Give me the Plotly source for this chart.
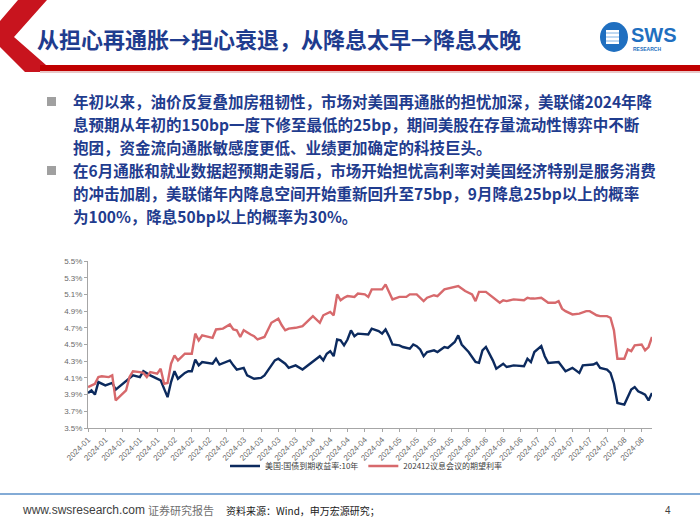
import plotly.graph_objects as go

W, H = 700, 525

# ---------------- data ----------------
tick_labels = (["2024-01"] * 5 + ["2024-02"] * 4 + ["2024-03"] * 4 + ["2024-04"] * 5 +
               ["2024-05"] * 4 + ["2024-06"] * 4 + ["2024-07"] * 5 + ["2024-08"] * 2)

# trading-day index of each reading
us10y_day = [0, 1, 2, 3, 5, 7, 8, 10, 13, 15, 16, 18, 21, 23, 24, 25, 26, 28, 29, 30,
             31, 32, 33, 36, 37, 38, 41, 42, 43, 45, 46, 48, 50, 51, 53, 54, 55, 57, 58, 60,
             62, 64, 67, 68, 69, 70, 71, 72, 73, 74, 75, 76, 77, 78, 81, 82, 84, 85, 86, 87,
             88, 90, 91, 93, 94, 95, 96, 97, 98, 100, 101, 103, 104, 106, 107, 108, 110, 112, 113, 114,
             115, 117, 118, 120, 121, 123, 126, 127, 128, 129, 131, 132, 133, 136, 138, 140, 142, 143, 146, 147,
             148, 150, 151, 152, 153, 155, 157, 158, 159, 160, 161, 162, 163]
us10y_val = [3.92, 3.95, 3.90, 4.05, 4.01, 4.04, 3.96, 4.03, 4.13, 4.11, 4.18, 4.13, 4.07, 3.87, 4.05, 4.18, 4.09, 4.16, 4.18, 4.18,
             4.32, 4.25, 4.29, 4.27, 4.33, 4.26, 4.31, 4.25, 4.20, 4.22, 4.13, 4.09, 4.10, 4.13, 4.25, 4.31, 4.33, 4.27, 4.22, 4.25,
             4.20, 4.26, 4.36, 4.31, 4.39, 4.42, 4.36, 4.56, 4.55, 4.49, 4.56, 4.67, 4.60, 4.63, 4.62, 4.69, 4.66, 4.63, 4.68, 4.60,
             4.50, 4.49, 4.47, 4.45, 4.50, 4.48, 4.44, 4.36, 4.41, 4.43, 4.41, 4.47, 4.46, 4.53, 4.61, 4.50, 4.41, 4.29, 4.28, 4.43,
             4.47, 4.31, 4.21, 4.27, 4.23, 4.25, 4.24, 4.33, 4.29, 4.41, 4.48, 4.36, 4.28, 4.29, 4.18, 4.22, 4.16, 4.25, 4.26, 4.28,
             4.22, 4.20, 4.16, 4.03, 3.80, 3.78, 3.96, 3.99, 3.94, 3.92, 3.90, 3.83, 3.92]

exp_day = [0, 1, 2, 3, 4, 6, 7, 8, 9, 11, 12, 13, 15, 16, 17, 18, 20, 21, 22, 23,
           24, 25, 26, 28, 30, 31, 32, 33, 36, 37, 39, 41, 42, 43, 44, 45, 47, 48, 49, 51,
           53, 55, 56, 57, 58, 60, 62, 63, 65, 67, 68, 70, 71, 72, 73, 74, 75, 77, 78, 80,
           81, 82, 85, 86, 87, 88, 90, 92, 93, 95, 97, 98, 100, 101, 103, 107, 109, 111, 112, 113,
           115, 117, 119, 120, 121, 123, 126, 127, 128, 129, 131, 133, 135, 136, 137, 138, 140, 142, 144, 145,
           147, 148, 150, 151, 152, 153, 155, 156, 157, 158, 160, 161, 162, 163]
exp_val = [3.99, 4.01, 4.03, 4.11, 4.12, 4.11, 4.13, 3.83, 3.87, 3.95, 4.11, 4.18, 4.17, 4.16, 4.11, 4.17, 4.15, 4.21, 4.03, 4.04,
           4.27, 4.37, 4.31, 4.39, 4.39, 4.63, 4.55, 4.61, 4.58, 4.68, 4.69, 4.74, 4.68, 4.67, 4.59, 4.67, 4.62, 4.60, 4.56, 4.59,
           4.76, 4.81, 4.73, 4.67, 4.69, 4.70, 4.72, 4.76, 4.84, 4.76, 4.85, 4.89, 4.85, 5.10, 5.03, 5.06, 5.08, 5.07, 5.11, 5.10,
           5.07, 5.16, 5.16, 5.22, 5.13, 5.04, 5.07, 5.07, 5.10, 5.10, 5.02, 5.06, 5.09, 5.08, 5.16, 5.20, 5.14, 5.10, 5.02, 5.13,
           5.13, 5.07, 5.00, 5.03, 5.02, 5.04, 5.03, 5.06, 5.05, 5.05, 5.06, 5.00, 5.00, 5.02, 4.93, 4.90, 4.86, 4.87, 4.90, 4.90,
           4.85, 4.84, 4.84, 4.82, 4.67, 4.33, 4.33, 4.44, 4.42, 4.49, 4.50, 4.43, 4.47, 4.59]

series_names = ["美国:国债到期收益率:10年", "202412议息会议的期望利率"]

title_text = "从担心再通胀→担心衰退，从降息太早→降息太晚"
bullet1 = ["年初以来，油价反复叠加房租韧性，市场对美国再通胀的担忧加深，美联储2024年降",
           "息预期从年初的150bp一度下修至最低的25bp，期间美股在存量流动性博弈中不断",
           "抱团，资金流向通胀敏感度更低、业绩更加确定的科技巨头。"]
bullet2 = ["在6月通胀和就业数据超预期走弱后，市场开始担忧高利率对美国经济特别是服务消费",
           "的冲击加剧，美联储年内降息空间开始重新回升至75bp，9月降息25bp以上的概率",
           "为100%，降息50bp以上的概率为30%。"]

# ---------------- helpers ----------------
def px(x):
    return x / W


def py(y):
    return 1 - y / H


NAVY = "#0C2A5E"
SALMON = "#D7696C"
TXT_BLUE = "#1F3C8E"
CJK = "Noto Sans CJK SC"

fig = go.Figure()
fig.add_trace(go.Scatter(x=us10y_day, y=us10y_val, mode="lines", name=series_names[0],
                         line=dict(color=NAVY, width=2.4)))
fig.add_trace(go.Scatter(x=exp_day, y=exp_val, mode="lines", name=series_names[1],
                         line=dict(color=SALMON, width=2.4)))

tick_vals = [i * 5 for i in range(len(tick_labels))]

axis_font = dict(family="Liberation Sans, Arial", size=8, color="#6A6A6A")
fig.update_layout(
    template="none",
    width=W, height=H,
    margin=dict(l=0, r=0, t=0, b=0),
    paper_bgcolor="white", plot_bgcolor="white",
    showlegend=True,
    legend=dict(orientation="h", x=px(366), y=py(466), xanchor="center", yanchor="middle",
                font=dict(family=CJK, size=8, color="#404040"), bgcolor="rgba(0,0,0,0)",
                itemwidth=30, tracegroupgap=0),
    xaxis=dict(domain=[px(88), px(652)], range=[0, 163], tickmode="array", tickvals=tick_vals,
               ticktext=tick_labels, tickangle=-45, tickfont=axis_font, showgrid=False,
               showline=True, linecolor="#A6A6A6", linewidth=1, ticks="outside", ticklen=3,
               tickcolor="#A6A6A6", zeroline=False, automargin=False),
    yaxis=dict(domain=[1 - 428 / H, 1 - 261 / H], range=[3.5, 5.5], dtick=0.2, tick0=3.5,
               tickformat=".1f", ticksuffix="%", tickfont=axis_font, showgrid=False,
               showline=True, linecolor="#A6A6A6", linewidth=1, ticks="outside", ticklen=3,
               tickcolor="#A6A6A6", zeroline=False, automargin=False),
)

shapes = []
# header chevron
chev = [(18, 0), (47, 0), (14, 37), (54, 72), (25, 72), (0, 47), (0, 21)]
path = "M " + " L ".join(f"{px(a):.4f},{py(b):.4f}" for a, b in chev) + " Z"
shapes.append(dict(type="path", xref="paper", yref="paper", path=path,
                   fillcolor="#C8141E", line=dict(width=0)))
# header bottom band
shapes.append(dict(type="rect", xref="paper", yref="paper", x0=px(40), x1=px(700),
                   y0=py(71), y1=py(65), fillcolor="#C00000", line=dict(width=0)))
shapes.append(dict(type="rect", xref="paper", yref="paper", x0=px(40), x1=px(700),
                   y0=py(73), y1=py(71), fillcolor="#E8C8C8", line=dict(width=0)))
# bullets
for yb in (101, 170):
    shapes.append(dict(type="rect", xref="paper", yref="paper", x0=px(47), x1=px(56),
                       y0=py(yb + 5), y1=py(yb - 4), fillcolor="#A0A0A0",
                       line=dict(width=0)))
# footer line
shapes.append(dict(type="line", xref="paper", yref="paper", x0=0, x1=1, y0=py(494), y1=py(494),
                   line=dict(color="#5A8FC8", width=1.5)))
# logo
shapes.append(dict(type="circle", xref="paper", yref="paper", x0=px(600), x1=px(628),
                   y0=py(52), y1=py(22), fillcolor="#1F6FC0", line=dict(width=0)))
shapes.append(dict(type="rect", xref="paper", yref="paper", x0=px(606), x1=px(619),
                   y0=py(44), y1=py(30), fillcolor="white", line=dict(width=0)))
for yy in (33, 37, 41):
    shapes.append(dict(type="line", xref="paper", yref="paper", x0=px(606), x1=px(619),
                       y0=py(yy), y1=py(yy), line=dict(color="#7FB2E5", width=1)))
fig.update_layout(shapes=shapes)

ann = []
ann.append(dict(text=f"<b>{title_text}</b>", x=px(35), y=py(38), xref="paper", yref="paper",
                xanchor="left", yanchor="middle", showarrow=False,
                font=dict(family=CJK, size=22, color=TXT_BLUE)))
ann.append(dict(text="<b>SWS</b>", x=px(629), y=py(35), xref="paper", yref="paper",
                xanchor="left", yanchor="middle", showarrow=False,
                font=dict(family="Liberation Sans, Arial", size=20, color="#1F6FC0")))
ann.append(dict(text="<b>RESEARCH</b>", x=px(631), y=py(49), xref="paper", yref="paper",
                xanchor="left", yanchor="middle", showarrow=False,
                font=dict(family="Liberation Sans, Arial", size=5, color="#1F6FC0")))
for i, line in enumerate(bullet1):
    ann.append(dict(text=f"<b>{line}</b>", x=px(71), y=py(101 + 23 * i), xref="paper", yref="paper",
                    xanchor="left", yanchor="middle", showarrow=False,
                    font=dict(family=CJK, size=15.5, color=TXT_BLUE)))
for i, line in enumerate(bullet2):
    ann.append(dict(text=f"<b>{line}</b>", x=px(71), y=py(170 + 23 * i), xref="paper", yref="paper",
                    xanchor="left", yanchor="middle", showarrow=False,
                    font=dict(family=CJK, size=15.5, color=TXT_BLUE)))
ann.append(dict(text="www.swsresearch.com", x=px(20), y=py(510), xref="paper", yref="paper",
                xanchor="left", yanchor="middle", showarrow=False,
                font=dict(family="Liberation Sans, Arial", size=12, color="#404040")))
ann.append(dict(text="证券研究报告", x=px(146), y=py(510), xref="paper", yref="paper",
                xanchor="left", yanchor="middle", showarrow=False,
                font=dict(family=CJK, size=11, color="#707070")))
ann.append(dict(text="资料来源：Wind，申万宏源研究；", x=px(224), y=py(510), xref="paper", yref="paper",
                xanchor="left", yanchor="middle", showarrow=False,
                font=dict(family=CJK, size=10, color="#202020")))
ann.append(dict(text="4", x=px(668), y=py(510), xref="paper", yref="paper",
                xanchor="center", yanchor="middle", showarrow=False,
                font=dict(family="Liberation Sans, Arial", size=10, color="#404040")))
fig.update_layout(annotations=ann)

fig.write_html("out.html")
